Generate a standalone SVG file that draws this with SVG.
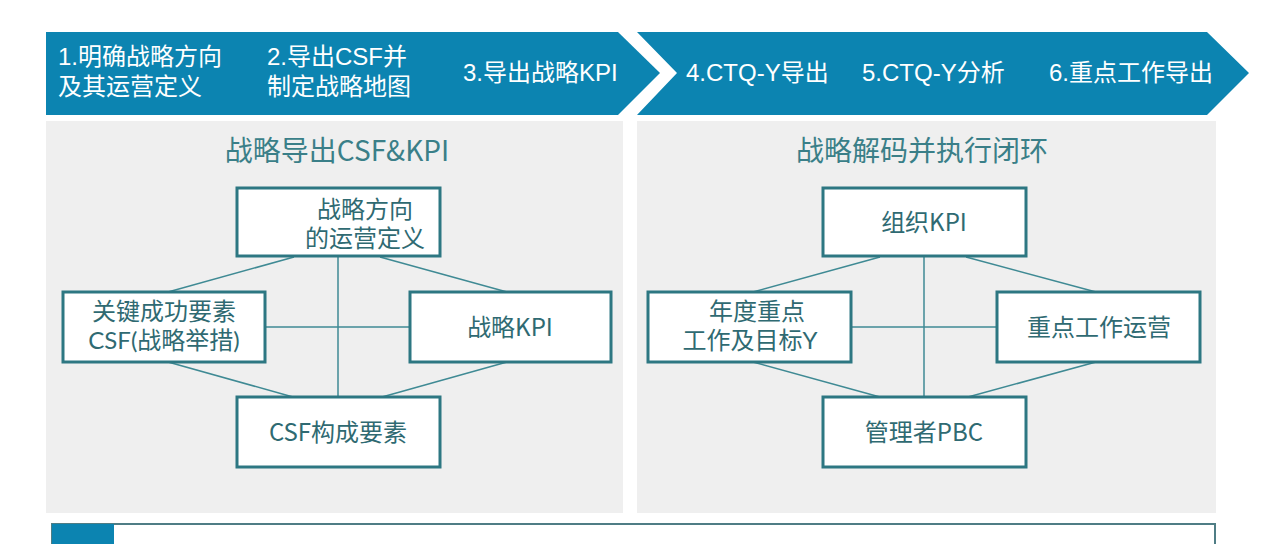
<svg xmlns="http://www.w3.org/2000/svg" width="1280" height="544" viewBox="0 0 1280 544">
<style>
.band{fill:#0c84b1}
.panel{fill:#efefef}
.bt{font-family:"Liberation Sans","Noto Sans CJK SC",sans-serif;font-size:24px;fill:#ffffff}
.ttl{font-family:"Noto Sans CJK SC",sans-serif;font-size:28px;fill:#3a7f88;text-anchor:middle}
.box{fill:#ffffff;stroke:#2d7782;stroke-width:3}
.nt{font-family:"Noto Sans CJK SC",sans-serif;font-size:24px;fill:#2f6a72;text-anchor:middle}
.nt2{font-family:Lato,"Noto Sans CJK SC",sans-serif;font-size:24px;fill:#2f6a72;text-anchor:middle}
.ln{stroke:#3f8a94;stroke-width:1.5;fill:none}
</style>
<rect width="1280" height="544" fill="#ffffff"/>
<g id="banner">
<polygon class="band" points="46,32 618,32 660,73 618,115 46,115"/>
<polygon class="band" points="637,32 1207,32 1249,73 1207,115 637,115 677,73"/>
<text class="bt" x="58" y="65">1.明确战略方向</text>
<text class="bt" x="58" y="95">及其运营定义</text>
<text class="bt" x="267" y="65">2.导出CSF并</text>
<text class="bt" x="267" y="95">制定战略地图</text>
<text class="bt" x="463" y="81">3.导出战略KPI</text>
<text class="bt" x="686" y="81">4.CTQ-Y导出</text>
<text class="bt" x="862" y="81">5.CTQ-Y分析</text>
<text class="bt" x="1049" y="81">6.重点工作导出</text>
</g>
<rect class="panel" x="46" y="121" width="577" height="392"/>
<rect class="panel" x="637" y="121" width="579" height="392"/>
<text class="ttl" x="337" y="161">战略导出CSF&amp;KPI</text>
<text class="ttl" x="922" y="161">战略解码并执行闭环</text>
<g id="connectors">
<line class="ln" x1="338" y1="257" x2="338" y2="397"/>
<line class="ln" x1="265" y1="327" x2="410" y2="327"/>
<line class="ln" x1="294" y1="257" x2="168" y2="292"/>
<line class="ln" x1="380" y1="257" x2="507" y2="292"/>
<line class="ln" x1="168" y1="362" x2="293" y2="397"/>
<line class="ln" x1="507" y1="362" x2="382" y2="397"/>
<line class="ln" x1="924" y1="257" x2="924" y2="397"/>
<line class="ln" x1="851" y1="327" x2="997" y2="327"/>
<line class="ln" x1="880" y1="257" x2="753" y2="292"/>
<line class="ln" x1="966" y1="257" x2="1096" y2="292"/>
<line class="ln" x1="753" y1="362" x2="880" y2="397"/>
<line class="ln" x1="1096" y1="362" x2="968" y2="397"/>
</g>
<g id="n-direction">
<rect class="box" x="237" y="188" width="203" height="68"/>
<text class="nt2" x="365" y="218">战略方向</text>
<text class="nt2" x="365" y="247">的运营定义</text>
</g>
<g id="n-csf">
<rect class="box" x="63" y="292" width="202" height="70"/>
<text class="nt2" x="164" y="320">关键成功要素</text>
<text class="nt2" x="164" y="349">CSF(战略举措)</text>
</g>
<g id="n-kpi">
<rect class="box" x="410" y="292" width="201" height="70"/>
<text class="nt" x="510" y="336">战略KPI</text>
</g>
<g id="n-csf-elem">
<rect class="box" x="237" y="397" width="203" height="70"/>
<text class="nt" x="338" y="441">CSF构成要素</text>
</g>
<g id="n-org-kpi">
<rect class="box" x="823" y="188" width="203" height="68"/>
<text class="nt" x="924" y="231">组织KPI</text>
</g>
<g id="n-annual">
<rect class="box" x="648" y="292" width="203" height="70"/>
<text class="nt2" x="757" y="320">年度重点</text>
<text class="nt2" x="750" y="349">工作及目标Y</text>
</g>
<g id="n-ops">
<rect class="box" x="997" y="292" width="203" height="70"/>
<text class="nt" x="1099" y="336">重点工作运营</text>
</g>
<g id="n-pbc">
<rect class="box" x="823" y="397" width="203" height="70"/>
<text class="nt" x="924" y="441">管理者PBC</text>
</g>
<g id="footer">
<rect x="52" y="524" width="1163" height="30" fill="#ffffff" stroke="#4f7d85" stroke-width="2"/>
<rect x="52" y="524" width="62" height="30" fill="#0c84b1"/>
</g>
</svg>
